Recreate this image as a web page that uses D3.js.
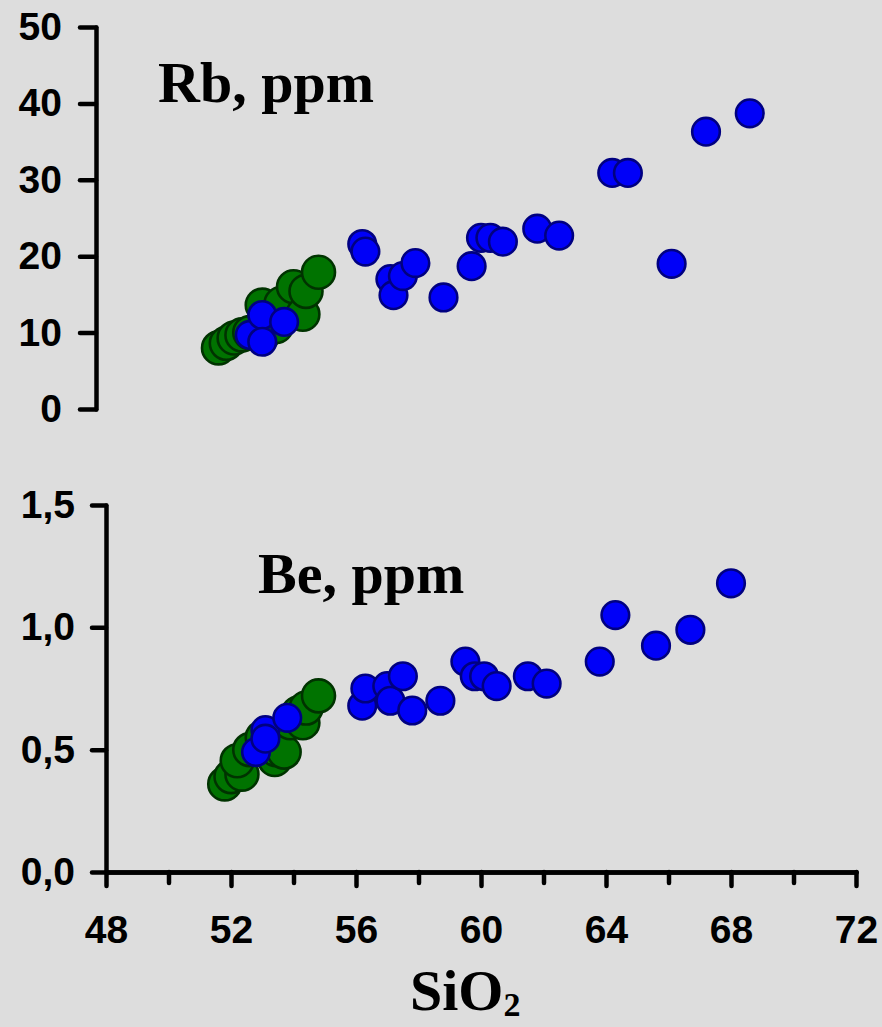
<!DOCTYPE html>
<html><head><meta charset="utf-8">
<script src="https://cdn.jsdelivr.net/npm/d3@7"></script>
<style>
html,body{margin:0;padding:0;background:#dddddd;}
svg{display:block;}
</style></head>
<body>
<svg id="c" width="882" height="1027"></svg>
<script>
// ---- data ----
const rbGreenSiO2 = [51.6, 51.85, 52.1, 52.35, 52.6, 53.0, 53.45, 53.0, 53.6, 54.0, 54.3, 54.4, 54.8];
const rbGreenVal  = [8.0, 8.6, 9.3, 9.7, 10.0, 9.6, 10.8, 13.6, 13.8, 16.0, 12.4, 15.4, 17.9];
const rbBlueSiO2 = [52.6, 53.0, 53.0, 53.7, 56.2, 56.3, 57.1, 57.2, 57.5, 57.9, 58.8, 59.7, 60.0, 60.3, 60.7, 61.8, 62.5, 64.2, 64.7, 66.1, 67.2, 68.6];
const rbBlueVal  = [9.7, 12.3, 8.8, 11.4, 21.6, 20.6, 17.0, 14.9, 17.4, 19.1, 14.6, 18.7, 22.4, 22.4, 21.9, 23.6, 22.7, 30.9, 30.9, 19.0, 36.3, 38.7];
const beGreenSiO2 = [51.8, 52.0, 52.35, 52.2, 52.6, 53.0, 53.4, 53.45, 53.7, 53.9, 54.15, 54.3, 54.4, 54.8];
const beGreenVal  = [0.36, 0.39, 0.40, 0.455, 0.50, 0.55, 0.46, 0.50, 0.49, 0.61, 0.65, 0.61, 0.67, 0.72];
const beBlueSiO2 = [52.8, 53.1, 53.1, 53.8, 56.2, 56.3, 57.0, 57.1, 57.5, 57.8, 58.7, 59.5, 59.8, 60.1, 60.5, 61.5, 62.1, 63.8, 64.3, 65.6, 66.7, 68.0];
const beBlueVal  = [0.49, 0.58, 0.545, 0.63, 0.68, 0.75, 0.76, 0.70, 0.80, 0.66, 0.70, 0.86, 0.80, 0.80, 0.76, 0.80, 0.77, 0.86, 1.05, 0.925, 0.99, 1.18];
const xTicks = [48, 52, 56, 60, 64, 68, 72];
const xMinorTicks = [50, 54, 58, 62, 66, 70];
const rbTicks = [0, 10, 20, 30, 40, 50];
const beTicks = [0, 0.5, 1.0, 1.5];

// ---- layout ----
const svg = d3.select("#c");
svg.append("rect").attr("width",882).attr("height",1027).attr("fill","#dddddd");

const x = d3.scaleLinear().domain([48,72]).range([106,856]);
const yRb = d3.scaleLinear().domain([0,50]).range([409,27]);
const yBe = d3.scaleLinear().domain([0,1.5]).range([872,505]);

const GREEN="#007300", GREEN_S="#003300", BLUE="#0000f8", BLUE_S="#000080";

function styleAxis(g){
  g.selectAll("path.domain").attr("stroke","#000").attr("stroke-width",4.5).attr("stroke-linecap","round");
  g.selectAll(".tick line").attr("stroke","#000").attr("stroke-width",4.5).attr("stroke-linecap","round");
  g.selectAll(".tick text").attr("fill","#000")
    .style("font-family","'Liberation Sans', Arial, sans-serif")
    .style("font-weight","bold").style("font-size","39px");
}
const commaFmt = d => d3.format(".1f")(d).replace(".", ",");

// Top panel axis
const gRb = svg.append("g").attr("transform","translate(96,0)")
  .call(d3.axisLeft(yRb).tickValues(rbTicks).tickSize(16).tickSizeOuter(0).tickPadding(18).tickFormat(d3.format("d")));
styleAxis(gRb);

// Bottom panel axes
const gBe = svg.append("g").attr("transform","translate(106,0)")
  .call(d3.axisLeft(yBe).tickValues(beTicks).tickSize(14).tickSizeOuter(0).tickPadding(17).tickFormat(commaFmt));
styleAxis(gBe);

const gXm = svg.append("g").attr("transform","translate(0,872)")
  .call(d3.axisBottom(x).tickValues(xMinorTicks).tickSize(11).tickSizeOuter(0).tickFormat(""));
styleAxis(gXm);
const gX = svg.append("g").attr("transform","translate(0,872)")
  .call(d3.axisBottom(x).tickValues(xTicks).tickSize(14).tickSizeOuter(0).tickPadding(29).tickFormat(d3.format("d")));
styleAxis(gX);

// points
function drawPts(xs, ys, yScale, r, fill, stroke){
  svg.append("g").selectAll("circle").data(xs.map((s,i)=>[s, ys[i]])).join("circle")
    .attr("cx", d=>x(d[0])).attr("cy", d=>yScale(d[1])).attr("r", r)
    .attr("fill", fill).attr("stroke", stroke).attr("stroke-width", 2.6);
}
drawPts(rbGreenSiO2, rbGreenVal, yRb, 16.5, GREEN, GREEN_S);
drawPts(rbBlueSiO2, rbBlueVal, yRb, 13.8, BLUE, BLUE_S);
drawPts(beGreenSiO2, beGreenVal, yBe, 16.5, GREEN, GREEN_S);
drawPts(beBlueSiO2, beBlueVal, yBe, 13.8, BLUE, BLUE_S);

// labels
const serif = "'Liberation Serif', 'Times New Roman', serif";
svg.append("text").attr("x",158).attr("y",102).text("Rb, ppm")
  .style("font-family",serif).style("font-weight","bold").style("font-size","58px");
svg.append("text").attr("x",258).attr("y",593).text("Be, ppm")
  .style("font-family",serif).style("font-weight","bold").style("font-size","58px");
const t = svg.append("text").attr("x",410).attr("y",1010)
  .style("font-family",serif).style("font-weight","bold").style("font-size","58px");
t.append("tspan").text("SiO");
t.append("tspan").text("2").attr("dy",6).style("font-size","34px");
</script>
</body></html>
